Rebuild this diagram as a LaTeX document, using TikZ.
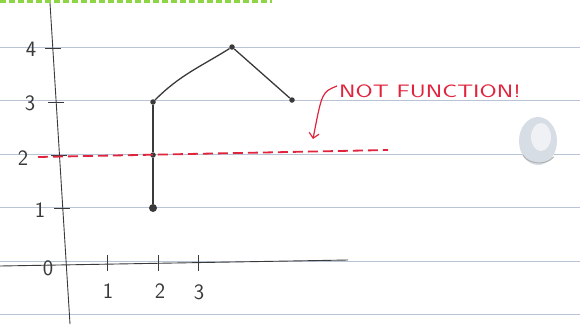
\documentclass[tikz,border=0pt]{standalone}
\usepackage{fontspec}
\usepackage{tikz}
\usetikzlibrary{arrows.meta,positioning}
\definecolor{rule}{HTML}{B9C3D6}
\definecolor{pencil}{HTML}{3A3A3A}
\definecolor{marker}{HTML}{E1243D}
\definecolor{leaf}{HTML}{8ED545}
\definecolor{blob}{HTML}{D6DDE4}

\begin{document}
\begin{tikzpicture}[
  x=1pt, y=-1pt,
  ruled/.style={draw=rule, line width=0.8pt},
  axis/.style={draw=pencil, line width=0.9pt},
  axtick/.style={draw=pencil, line width=0.9pt},
  num/.style={font=\sffamily\fontsize{22}{22}\selectfont, text=pencil, inner sep=0pt},
  dot/.style={circle, fill=pencil, inner sep=0pt, minimum size=5.5pt},
  bigdot/.style={dot, minimum size=8pt},
  graph/.style={draw=pencil, line width=1.3pt},
  redline/.style={draw=marker, line width=1.8pt, dash pattern=on 10pt off 5pt},
  note/.style={font=\sffamily\fontsize{18}{18}\selectfont, text=marker, inner sep=0pt}
]
\useasboundingbox[fill=white] (0,0) rectangle (580,327);

% notebook paper
\foreach \k in {0,...,5}
  \draw[ruled] (0,{47+53.5*\k}) -- (580,{47+53.5*\k});
\draw[leaf, line width=4pt, dash pattern=on 6pt off 3pt] (0,1) -- (272,1);
\fill[blob] (538,141) ellipse (19pt and 24pt);
\fill[white!60!blob] (541,137) ellipse (10pt and 14pt);
\draw[gray!60, line width=1pt] (523,155) arc (200:330:17pt and 12pt);

% axes
\draw[axis] (50,3) -- (70,324);
\draw[axis] (0,266) -- (348,260);
\foreach \y/\x in {48/53, 102/56, 155/59, 208/62}
  \draw[axtick] ({\x-8},\y) -- ({\x+8},\y);
\foreach \x in {107,158,198}
  \draw[axtick] (\x,255) -- (\x,271);

\node[num] (y4) at (31,49) {4};
\node[num] (y3) at (30,103) {3};
\node[num] (y2) at (23,158) {2};
\node[num] (y1) at (40,210) {1};
\node[num] (y0) at (48,268) {0};
\node[num] (x1) at (108,291) {1};
\node[num] (x2) at (160,291) {2};
\node[num] (x3) at (199,292) {3};

% the relation
\node[dot] (p3) at (153,102) {};
\node[dot] (p2) at (153,155) {};
\node[bigdot] (p1) at (153,208) {};
\node[dot] (top) at (232,47) {};
\node[dot] (end) at (292,100) {};
\draw[graph] (p3) -- (p2) -- (p1);
\draw[graph] (p3) to[out=45,in=-148] (top);
\draw[graph] (top) -- (end);

% vertical line test
\coordinate (lineL) at (38,157);
\coordinate (lineR) at (388,150);
\draw[redline] (lineL) -- (lineR);

\node[note, anchor=west] (label) at (339,91) {\scalebox{1.38}[1]{NOT FUNCTION!}};
\coordinate (hook) at (337,86);
\coordinate (tip) at (313,139);
\draw[marker, line width=1.2pt, -{Straight Barb[length=5pt]}] (hook) .. controls (322,92) .. (tip);
\end{tikzpicture}
\end{document}
